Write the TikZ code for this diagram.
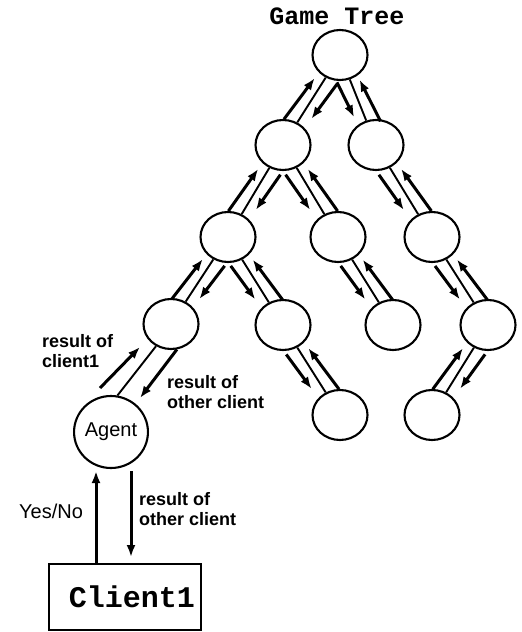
\documentclass[tikz,border=0pt]{standalone}
\usepackage{fontspec}
\setmainfont{Liberation Sans}
\setmonofont{Liberation Mono}
\usetikzlibrary{shapes.geometric,arrows.meta,calc}

\begin{document}
\begin{tikzpicture}[x=1pt, y=-1pt,
    tnode/.style={draw, ellipse, line width=2.1pt, minimum width=55pt, minimum height=50pt, inner sep=0pt},
    edge/.style={line width=1.9pt},
    arr/.style={-{Latex[length=12pt,width=9pt]}, line width=3pt},
    lbl/.style={font=\bfseries\fontsize{18}{20}\selectfont, align=left, inner sep=0pt, anchor=west}]
    \useasboundingbox (0,0) rectangle (522,632);
    % Title
    \node[font=\ttfamily\bfseries\fontsize{25}{25}\selectfont, inner sep=0pt] (title) at (337,16) {Game Tree};
    % Tree nodes
    \node[tnode] (root) at (340,55) {};
    \node[tnode] (l2a) at (283,145) {};
    \node[tnode] (l2b) at (376,145) {};
    \node[tnode] (l3a) at (228,237) {};
    \node[tnode] (l3b) at (338,237) {};
    \node[tnode] (l3c) at (432,237) {};
    \node[tnode] (l4a) at (171,324) {};
    \node[tnode] (l4b) at (283,325) {};
    \node[tnode] (l4c) at (393,325) {};
    \node[tnode] (l4d) at (488,325) {};
    \node[tnode] (l5a) at (340,415) {};
    \node[tnode] (l5b) at (432,415) {};
    % Agent and client
    \node[tnode, minimum width=66pt, minimum height=72pt, font=\fontsize{20}{20}\selectfont] (agent) at (111,432) {Agent};
    \node[draw, line width=2pt, minimum width=152pt, minimum height=66pt, inner sep=0pt,
          font=\ttfamily\bfseries\fontsize{30}{30}\selectfont] (client) at (124.5,597) {\hspace*{15pt}Client1};
    % Tree edges with the two message arrows
    \foreach \p/\c/\u/\d in {root/l2a/-90/90, root/l2b/90/-90, l2a/l3a/-90/90, l2a/l3b/90/-90,
        l2b/l3c/90/-90, l3a/l4a/-90/90, l3a/l4b/90/-90, l3b/l4c/90/-90, l3c/l4d/90/-90,
        l4b/l5a/90/-90, l4d/l5b/-90/90} {
        \draw[edge] (\p) -- (\c);
        \draw[arr] ($(\p)!0.79!(\c)!13pt!\u:(\c)$) -- ($(\p)!0.31!(\c)!9pt!\u:(\c)$);
        \draw[arr] ($(\p)!0.25!(\c)!13pt!\d:(\c)$) -- ($(\p)!0.65!(\c)!10pt!\d:(\c)$);
    }
    % Agent to tree
    \draw[arr] ([shift={(-11,-44)}]agent.center) -- ([shift={(-31,23)}]l4a.center);
    \draw[edge] (agent.80) -- (l4a.236);
    \draw[arr] (l4a.283) -- ([shift={(29,-34)}]agent.center);
    % Agent to client
    \draw[arr] ([xshift=-28.5pt]client.north) -- ([xshift=-15pt,yshift=-2pt]agent.south);
    \draw[arr] ([xshift=20pt,yshift=-2pt]agent.south) -- ([xshift=6.5pt,yshift=6pt]client.north);
    % Labels
    \node[lbl] (lblone) at (42,351) {result of\\client1};
    \node[lbl] (lbltwo) at (167,392) {result of\\other client};
    \node[font=\fontsize{20}{20}\selectfont, inner sep=0pt] (yesno) at (51,511) {Yes/No};
    \node[lbl] (lblthree) at (139,509) {result of\\other client};
\end{tikzpicture}
\end{document}
